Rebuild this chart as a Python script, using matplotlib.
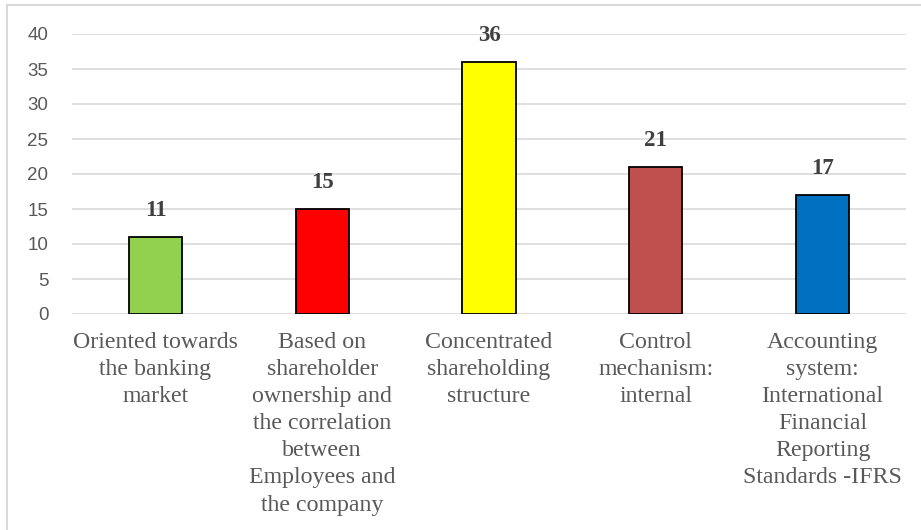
import numpy as np
import matplotlib
matplotlib.use('Agg')
from matplotlib import pyplot as plt
from matplotlib.patches import Rectangle

categories = ['Oriented towards\nthe banking\nmarket',
              'Based on\nshareholder\nownership and\nthe correlation\nbetween\nEmployees and\nthe company',
              'Concentrated\nshareholding\nstructure',
              'Control\nmechanism:\ninternal',
              'Accounting\nsystem:\nInternational\nFinancial\nReporting\nStandards -IFRS']
values = [11, 15, 36, 21, 17]
colors = ['#92D050', '#FF0000', '#FFFF00', '#C0504D', '#0070C0']
yticks = [0, 5, 10, 15, 20, 25, 30, 35, 40]

serif = ['Liberation Serif', 'DejaVu Serif']

fig = plt.figure(figsize=(9.21, 5.30), dpi=100)
ax = fig.add_axes([72/921, 1 - 314/530, 834/921, 280/530])

x = np.arange(len(values))
ax.bar(x, values, width=0.32, color=colors, edgecolor='black', linewidth=1.3, zorder=3)
for xi, v in zip(x, values):
    ax.text(xi, v + 2.3, str(v), ha='center', va='bottom', fontsize=16.5,
            fontweight='bold', family=serif, color='#404040')

ax.set_xlim(-0.5, len(values) - 0.5)
ax.set_ylim(0, 40)
ax.set_yticks(yticks)
ax.set_yticklabels([str(t) for t in yticks], fontsize=13.5, color='#595959',
                   family=['Liberation Sans', 'DejaVu Sans'])
ax.tick_params(axis='y', length=0, pad=17)
ax.set_xticks(x)
ax.set_xticklabels(categories, fontsize=17.2, color='#595959', family=serif,
                   linespacing=1.38)
ax.tick_params(axis='x', length=0, pad=13)
ax.grid(axis='y', color='#D9D9D9', linewidth=1.2, zorder=0)
for s in ax.spines.values():
    s.set_visible(False)

# outer chart border (top and left visible)
fig.patches.append(Rectangle((7/921, -0.1), 1.1, (530 - 5)/530 + 0.1,
                             transform=fig.transFigure, fill=False,
                             edgecolor='#D9D9D9', linewidth=1.5))

fig.savefig('out.png', dpi=100)
